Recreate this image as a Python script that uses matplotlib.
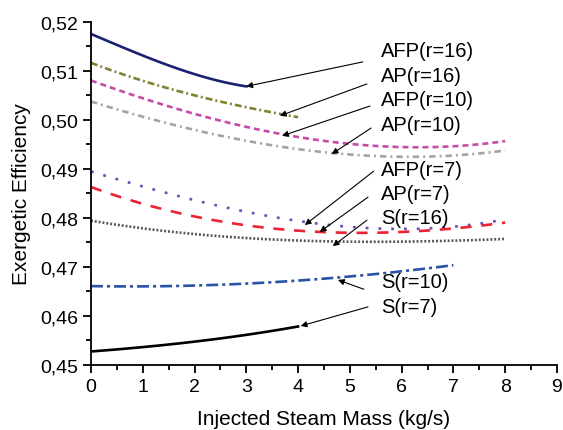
import numpy as np
import matplotlib
matplotlib.use("Agg")
import matplotlib.pyplot as plt
from matplotlib.ticker import MultipleLocator, FuncFormatter

plt.rcParams['font.family'] = ['Liberation Sans', 'DejaVu Sans']
plt.rcParams['lines.scale_dashes'] = False

# Datos
x8 = [0, 1, 2, 3, 4, 5, 6, 7, 8]
afp16_x = [0, 1, 2, 3]
afp16 = [0.5175, 0.5131, 0.5093, 0.5068]
ap16_x = [0, 1, 2, 3, 4]
ap16 = [0.5116, 0.5080, 0.5049, 0.5026, 0.5005]
afp10 = [0.5078, 0.5046, 0.5016, 0.4983, 0.4961, 0.4949, 0.4947, 0.4949, 0.4954]
ap10 = [0.5034, 0.5010, 0.4985, 0.4952, 0.4934, 0.4930, 0.4928, 0.4929, 0.4935]
afp7 = [0.4893, 0.4865, 0.4838, 0.4812, 0.4790, 0.4780, 0.4779, 0.4784, 0.4795]
ap7 = [0.4862, 0.4830, 0.4802, 0.4784, 0.4773, 0.4770, 0.4771, 0.4778, 0.4790]
s16 = [0.4793, 0.4780, 0.4767, 0.4758, 0.4752, 0.4751, 0.4752, 0.4754, 0.4756]
s10_x = [0, 1, 2, 3, 4, 5, 6, 7]
s10 = [0.4661, 0.4659, 0.4661, 0.4666, 0.4673, 0.4680, 0.4689, 0.4704]
s7_x = [0, 1, 2, 3, 4]
s7 = [0.4527, 0.4536, 0.4547, 0.4561, 0.4578]

# etiquetas: texto, posición del texto, inicio de flecha, punta de flecha
labels = ['AFP(r=16)', 'AP(r=16)', 'AFP(r=10)', 'AP(r=10)', 'AFP(r=7)',
          'AP(r=7)', 'S(r=16)', 'S(r=10)', 'S(r=7)']
label_y = [0.5141, 0.5091, 0.5042, 0.4991, 0.4899, 0.4850, 0.4801, 0.4669, 0.4618]
arrow_from = [(5.25, 0.5118), (5.33, 0.5073), (5.39, 0.5028), (5.41, 0.4983),
              (5.46, 0.4895), (5.35, 0.4842), (5.33, 0.4795), (5.27, 0.4654),
              (5.35, 0.4618)]
arrow_to = [(3.0, 0.5068), (3.65, 0.5008), (3.69, 0.4967), (4.65, 0.4930),
            (4.13, 0.4785), (4.42, 0.4771), (4.67, 0.4742), (4.77, 0.4673),
            (4.05, 0.4579)]


def smooth(xs, ys, n=100):
    # curva suave por polinomio a los puntos leídos
    grado = min(3, len(xs) - 1)
    p = np.polyfit(xs, ys, grado)
    xx = np.linspace(xs[0], xs[-1], n)
    return xx, np.polyval(p, xx)


fig = plt.figure(figsize=(5.63, 4.31), dpi=100)
ax = fig.add_axes([0.1616, 0.1515, 0.9893 - 0.1616, 0.9473 - 0.1515])

lw = 1.9
series = [
    (afp16_x, afp16, '#1b2272', (None, None)),
    (ap16_x, ap16, '#828234', (5, 2.2, 1.4, 2.2)),
    (x8, afp10, '#c64aa8', (4.3, 2.9)),
    (x8, ap10, '#a3a3a3', (4.6, 2.9, 1.4, 2.9)),
    (x8, afp7, '#6a50b8', (2.0, 7.2)),
    (x8, ap7, '#ee2233', (8.0, 7.0)),
    (x8, s16, '#555555', (1.4, 1.4)),
    (s10_x, s10, '#2a52a8', (8.6, 2.9, 2.2, 2.9)),
    (s7_x, s7, '#000000', (None, None)),
]
for xs, ys, c, d in series:
    xx, yy = smooth(xs, ys)
    line, = ax.plot(xx, yy, color=c, lw=lw)
    if d[0] is not None:
        line.set_dashes(d)

for lab, ly, a0, a1 in zip(labels, label_y, arrow_from, arrow_to):
    ax.text(5.6, ly, lab, fontsize=14.5, va='center', ha='left')
    ax.annotate('', xy=a1, xytext=a0,
                arrowprops=dict(arrowstyle='-|>', color='black', lw=0.8,
                                mutation_scale=9, shrinkA=0, shrinkB=0))

ax.set_xlim(0, 9)
ax.set_ylim(0.45, 0.52)
ax.xaxis.set_major_locator(MultipleLocator(1))
ax.xaxis.set_minor_locator(MultipleLocator(0.5))
ax.yaxis.set_major_locator(MultipleLocator(0.01))
ax.yaxis.set_minor_locator(MultipleLocator(0.005))
ax.yaxis.set_major_formatter(FuncFormatter(lambda v, p: ('%.2f' % v).replace('.', ',')))

for s in ['top', 'right']:
    ax.spines[s].set_visible(False)
for s in ['left', 'bottom']:
    ax.spines[s].set_linewidth(1.3)
ax.tick_params(which='major', direction='out', length=6, width=1.3, labelsize=14)
ax.tick_params(which='minor', direction='out', length=3.5, width=1.3)

ax.set_xlabel('Injected Steam Mass (kg/s)', fontsize=15, labelpad=10)
ax.set_ylabel('Exergetic Efficiency', fontsize=15, labelpad=6)

plt.savefig('out.png', dpi=100)
